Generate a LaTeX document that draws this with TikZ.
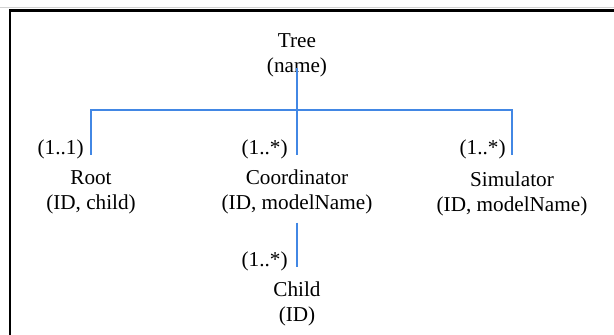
\documentclass[tikz,border=0pt]{standalone}
\usepackage{fontspec}
\setmainfont{Liberation Serif}
\definecolor{linkblue}{RGB}{66,135,228}
\newcommand{\entfont}{\fontsize{10.6}{12.6}\selectfont}
\begin{document}
\begin{tikzpicture}[
  x=0.5pt, y=-0.5pt,
  entity/.style={align=center, inner sep=0pt, font=\entfont},
  mult/.style={anchor=east, inner sep=0pt, outer ysep=-2pt, font=\entfont},
  link/.style={draw=linkblue, line width=0.75pt}
]
  \useasboundingbox (0,0) rectangle (614,334);
  % frame of the page
  \draw[gray!35, line width=0.6pt] (0,7.5) -- (614,7.5);
  \draw[line width=1.3pt] (10,340) -- (10,10.6) -- (620,10.6);

  \node[entity] (tree)  at (297,55)  {Tree\\(name)};
  \node[entity] (root)  at (91,192)  {Root\\(ID, child)};
  \node[entity] (coord) at (297,192) {Coordinator\\(ID, modelName)};
  \node[entity] (sim)   at (512,194) {Simulator\\(ID, modelName)};
  \node[entity] (child) at (297,304) {Child\\(ID)};

  \node[mult] (m1) at (84,149)  {(1..1)};
  \node[mult] (m2) at (288,149) {(1..*)};
  \node[mult] (m3) at (506,149) {(1..*)};
  \node[mult] (m4) at (288,261) {(1..*)};

  \coordinate (bus) at (297,110);
  \draw[link] ([yshift=4.5pt]tree.south) -- (bus);
  \draw[link] (root |- m1.south) |- (bus) -| (sim |- m3.south);
  \draw[link] (bus) -- (coord |- m2.south);
  \draw[link] ([yshift=-4pt]coord.south) -- (coord |- m4.south);
\end{tikzpicture}
\end{document}
